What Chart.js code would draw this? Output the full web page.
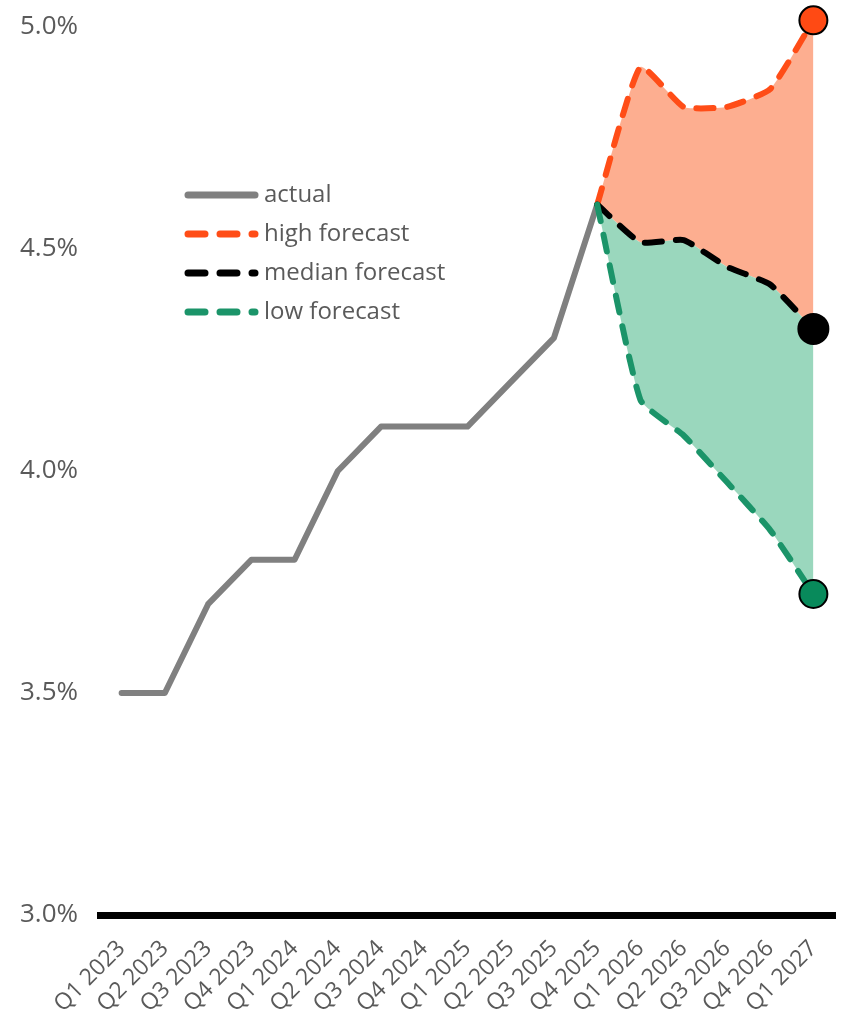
<!DOCTYPE html>
<html>
<head>
<meta charset="utf-8">
<script src="https://cdn.jsdelivr.net/npm/chart.js@4"></script>
<style>
  html, body { margin: 0; padding: 0; background: #fff; }
  #wrap { width: 846px; height: 1018px; }
</style>
</head>
<body>
<div id="wrap"><canvas id="c" width="846" height="1018"></canvas></div>
<script>
const categories = ["Q1 2023","Q2 2023","Q3 2023","Q4 2023","Q1 2024","Q2 2024","Q3 2024","Q4 2024","Q1 2025","Q2 2025","Q3 2025","Q4 2025","Q1 2026","Q2 2026","Q3 2026","Q4 2026","Q1 2027"];
const actual   = [3.5, 3.5, 3.7, 3.8, 3.8, 4.0, 4.1, 4.1, 4.1, 4.2, 4.3, 4.6, null, null, null, null, null];
const highFc   = [null, null, null, null, null, null, null, null, null, null, null, 4.6, 4.91, 4.82, 4.82, 4.86, 5.015];
const medianFc = [null, null, null, null, null, null, null, null, null, null, null, 4.6, 4.515, 4.52, 4.46, 4.42, 4.32];
const lowFc    = [null, null, null, null, null, null, null, null, null, null, null, 4.6, 4.16, 4.08, 3.975, 3.867, 3.723];
const seriesNames = ["actual", "high forecast", "median forecast", "low forecast"];
const yTicks = [3.0, 3.5, 4.0, 4.5, 5.0];

const FONT = "'Open Sans', 'DejaVu Sans', sans-serif";
const TEXT = '#5a5a5a';
const colors = { actual: '#808080', high: '#FF4D17', median: '#000000', low: '#1B9469' };

function endMarker(arr, r) {
  return arr.map((v, i) => (i === arr.length - 1 ? r : 0));
}

const legendPlugin = {
  id: 'customLegend',
  afterDraw(chart) {
    const ctx = chart.ctx;
    const x0 = 185, x1 = 258, tx = 264;
    const ys = [195, 234, 273, 312];
    const ds = chart.data.datasets;
    ctx.save();
    ds.forEach((d, i) => {
      const y = ys[i];
      ctx.beginPath();
      ctx.lineWidth = 7;
      ctx.lineCap = 'round';
      ctx.strokeStyle = d.borderColor;
      ctx.setLineDash(d.borderDash && d.borderDash.length ? [17, 15] : []);
      ctx.moveTo(x0 + 3, y);
      ctx.lineTo(x1 - 3, y);
      ctx.stroke();
      ctx.setLineDash([]);
      ctx.fillStyle = TEXT;
      ctx.font = "24px " + FONT;
      ctx.textBaseline = 'middle';
      ctx.textAlign = 'left';
      ctx.fillText(d.label, tx, y);
    });
    ctx.restore();
  }
};

new Chart(document.getElementById('c'), {
  type: 'line',
  data: {
    labels: categories,
    datasets: [
      {
        label: seriesNames[0], data: actual, borderColor: colors.actual, backgroundColor: colors.actual,
        borderWidth: 6, pointRadius: 0, fill: false, order: 4, borderJoinStyle: 'round', borderCapStyle: 'round'
      },
      {
        label: seriesNames[1], data: highFc, borderColor: colors.high, backgroundColor: 'rgba(253,170,138,0.95)',
        borderWidth: 6, borderDash: [17, 14], borderCapStyle: 'round', borderJoinStyle: 'round', tension: 0.15,
        fill: '+1', order: 2,
        pointRadius: endMarker(highFc, 14), pointBackgroundColor: '#FF4A14', pointBorderColor: '#000', pointBorderWidth: 2
      },
      {
        label: seriesNames[2], data: medianFc, borderColor: colors.median, backgroundColor: 'rgba(152,214,188,0.98)',
        borderWidth: 6, borderDash: [17, 14], borderCapStyle: 'round', borderJoinStyle: 'round', tension: 0.15,
        fill: '+1', order: 1,
        pointRadius: endMarker(medianFc, 15), pointBackgroundColor: '#000', pointBorderColor: '#000', pointBorderWidth: 2
      },
      {
        label: seriesNames[3], data: lowFc, borderColor: colors.low, backgroundColor: colors.low,
        borderWidth: 6, borderDash: [17, 14], borderCapStyle: 'round', borderJoinStyle: 'round', tension: 0.15,
        fill: false, order: 0,
        pointRadius: endMarker(lowFc, 14), pointBackgroundColor: '#088A5B', pointBorderColor: '#000', pointBorderWidth: 2
      }
    ]
  },
  options: {
    responsive: false,
    animation: false,
    clip: false,
    layout: { autoPadding: false, padding: { top: 27, right: 11, left: 20, bottom: 0 } },
    plugins: {
      legend: { display: false }, tooltip: { enabled: false },
      filler: { drawTime: 'beforeDatasetsDraw' }
    },
    elements: { point: { hoverRadius: 0 } },
    scales: {
      x: {
        offset: true,
        grid: { display: false },
        border: { display: true, color: '#000', width: 7 },
        ticks: {
          color: TEXT, font: { family: FONT, size: 23 },
          maxRotation: 45, minRotation: 45, autoSkip: false, padding: 12
        },
        afterFit(scale) { scale.height = 103; scale.paddingLeft = 0; scale.paddingRight = 0; }
      },
      y: {
        min: 3.0, max: 5.0,
        grid: { display: false },
        border: { display: false },
        afterBuildTicks(scale) { scale.ticks = yTicks.map(v => ({ value: v })); },
        ticks: {
          color: TEXT, font: { family: FONT, size: 26 }, crossAlign: 'far',
          callback: v => Number(v).toFixed(1) + '%'
        },
        afterFit(scale) { scale.width = 80; }
      }
    }
  },
  plugins: [legendPlugin]
});
</script>
</body>
</html>
